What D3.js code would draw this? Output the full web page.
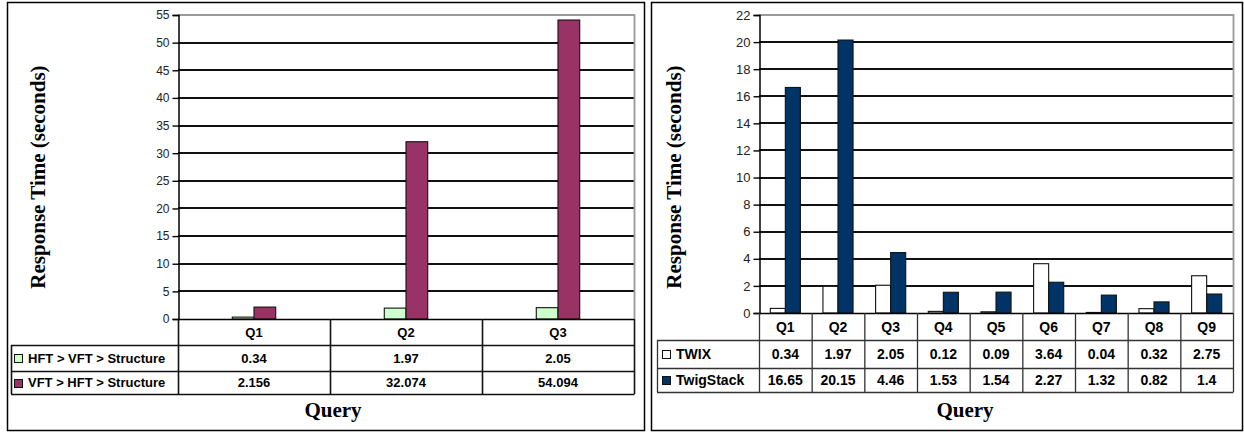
<!DOCTYPE html>
<html>
<head>
<meta charset="utf-8">
<script src="https://cdn.jsdelivr.net/npm/d3@7/dist/d3.min.js"></script>
<style>
  html, body { margin: 0; padding: 0; background: #fff; }
  svg { display: block; }
</style>
</head>
<body>
<svg id="chart" width="1244" height="432"></svg>
<script>
// ---- Left chart: evaluation order comparison ----
const leftCategories = ["Q1", "Q2", "Q3"];
const leftSeriesNames = ["HFT > VFT > Structure", "VFT > HFT > Structure"];
const leftHftFirst = [0.34, 1.97, 2.05];
const leftVftFirst = [2.156, 32.074, 54.094];
const leftValueLabels = [["0.34", "1.97", "2.05"], ["2.156", "32.074", "54.094"]];
const leftTicks = [0, 5, 10, 15, 20, 25, 30, 35, 40, 45, 50, 55];

// ---- Right chart: TWIX vs TwigStack ----
const rightCategories = ["Q1", "Q2", "Q3", "Q4", "Q5", "Q6", "Q7", "Q8", "Q9"];
const rightSeriesNames = ["TWIX", "TwigStack"];
const rightTwix = [0.34, 1.97, 2.05, 0.12, 0.09, 3.64, 0.04, 0.32, 2.75];
const rightTwigStack = [16.65, 20.15, 4.46, 1.53, 1.54, 2.27, 1.32, 0.82, 1.4];
const rightValueLabels = [
  ["0.34", "1.97", "2.05", "0.12", "0.09", "3.64", "0.04", "0.32", "2.75"],
  ["16.65", "20.15", "4.46", "1.53", "1.54", "2.27", "1.32", "0.82", "1.4"]
];
const rightTicks = [0, 2, 4, 6, 8, 10, 12, 14, 16, 18, 20, 22];

const svg = d3.select("#chart");

function drawPanel(cfg) {
  const g = svg.append("g");

  // outer frame
  g.append("rect")
    .attr("x", cfg.frame[0] + 0.5).attr("y", cfg.frame[1] + 0.5)
    .attr("width", cfg.frame[2]).attr("height", cfg.frame[3])
    .attr("fill", "#fff").attr("stroke", "#000").attr("stroke-width", 1.5);

  const x = d3.scaleBand().domain(cfg.categories).range([cfg.plotL, cfg.plotR]).padding(0);
  const y = d3.scaleLinear().domain([0, cfg.yMax]).range([cfg.plotB, cfg.plotT]);
  const xs = d3.scaleBand().domain(cfg.seriesNames).range([0, x.bandwidth()])
    .paddingInner(0).paddingOuter(cfg.outerPad);

  // gridlines
  g.append("g").selectAll("line")
    .data(cfg.ticks.filter(t => t > 0 && t < cfg.yMax))
    .join("line")
    .attr("x1", cfg.plotL).attr("x2", cfg.plotR)
    .attr("y1", d => Math.round(y(d))).attr("y2", d => Math.round(y(d)))
    .attr("stroke", "#111").attr("stroke-width", 1.8);

  // plot area border (top and right, grey)
  g.append("path")
    .attr("d", `M${cfg.plotL},${Math.round(y(cfg.yMax))}H${cfg.plotR + 0.5}V${cfg.plotB}`)
    .attr("fill", "none").attr("stroke", "#9a9a9a").attr("stroke-width", 1.8);

  // y axis
  const yAxis = d3.axisLeft(y).tickValues(cfg.ticks).tickSize(6).tickPadding(3).tickFormat(d3.format("d"));
  const ya = g.append("g").attr("transform", `translate(${cfg.plotL + 0.5},0)`).call(yAxis);
  ya.select(".domain").attr("stroke", "#000").attr("stroke-width", 1.5);
  ya.selectAll(".tick line").attr("stroke", "#000").attr("stroke-width", 1.4);
  ya.selectAll(".tick text")
    .attr("font-family", "Liberation Sans, Arial, sans-serif")
    .attr("font-size", cfg.tickFont).attr("fill", "#222");

  // bars
  cfg.series.forEach((vals, si) => {
    g.append("g").selectAll("rect")
      .data(vals)
      .join("rect")
      .attr("x", (d, i) => x(cfg.categories[i]) + xs(cfg.seriesNames[si]))
      .attr("y", d => y(d))
      .attr("width", xs.bandwidth())
      .attr("height", d => y(0) - y(d))
      .attr("fill", cfg.colors[si])
      .attr("stroke", "#111").attr("stroke-width", 1.1);
  });

  // baseline
  g.append("line")
    .attr("x1", cfg.plotL).attr("x2", cfg.plotR)
    .attr("y1", cfg.plotB + 0.5).attr("y2", cfg.plotB + 0.5)
    .attr("stroke", "#000").attr("stroke-width", 1.6);

  // data table
  const rows = cfg.rowEdges; // [top, headerBottom, row1Bottom, row2Bottom]
  const tl = g.append("g").attr("stroke", cfg.tableStroke).attr("stroke-width", cfg.tableWidth).attr("fill", "none");
  x.domain().forEach(c => {
    tl.append("line").attr("x1", x(c) + 0.5).attr("x2", x(c) + 0.5).attr("y1", rows[0]).attr("y2", rows[3]);
  });
  tl.append("line").attr("x1", cfg.plotR + 0.5).attr("x2", cfg.plotR + 0.5).attr("y1", rows[0]).attr("y2", rows[3]);
  tl.append("line").attr("x1", cfg.tableL + 0.5).attr("x2", cfg.tableL + 0.5).attr("y1", rows[1]).attr("y2", rows[3]);
  [1, 2, 3].forEach(r => {
    tl.append("line").attr("x1", cfg.tableL).attr("x2", cfg.plotR + 0.5)
      .attr("y1", rows[r] + 0.5).attr("y2", rows[r] + 0.5);
  });

  const tf = "Liberation Sans, Arial, sans-serif";
  // category labels
  g.append("g").selectAll("text").data(cfg.categories).join("text")
    .attr("x", d => x(d) + x.bandwidth() / 2)
    .attr("y", (rows[0] + rows[1]) / 2)
    .attr("dy", "0.36em").attr("text-anchor", "middle")
    .attr("font-family", tf).attr("font-weight", "bold").attr("font-size", cfg.tableFont)
    .text(d => d);

  // value rows + legend keys
  cfg.valueLabels.forEach((labels, si) => {
    const cy = (rows[si + 1] + rows[si + 2]) / 2;
    g.append("g").selectAll("text").data(labels).join("text")
      .attr("x", (d, i) => x(cfg.categories[i]) + x.bandwidth() / 2)
      .attr("y", cy).attr("dy", "0.36em").attr("text-anchor", "middle")
      .attr("font-family", tf).attr("font-weight", "bold").attr("font-size", cfg.tableFont)
      .text(d => d);
    g.append("rect")
      .attr("x", cfg.keyX + 0.5).attr("y", Math.round(cy - 4) + 0.5)
      .attr("width", 8).attr("height", 8)
      .attr("fill", cfg.colors[si]).attr("stroke", "#111").attr("stroke-width", 1);
    g.append("text")
      .attr("x", cfg.keyX + 14).attr("y", cy).attr("dy", "0.36em")
      .attr("font-family", tf).attr("font-weight", "bold").attr("font-size", cfg.tableFont)
      .text(cfg.seriesNames[si]);
  });

  // axis titles
  g.append("text")
    .attr("transform", `translate(${cfg.yTitleX},${cfg.yTitleY}) rotate(-90)`)
    .attr("text-anchor", "middle")
    .attr("font-family", "Liberation Serif, Times New Roman, serif")
    .attr("font-weight", "bold").attr("font-size", 21)
    .text("Response Time (seconds)");
  g.append("text")
    .attr("x", cfg.xTitleX).attr("y", cfg.xTitleY)
    .attr("text-anchor", "middle")
    .attr("font-family", "Liberation Serif, Times New Roman, serif")
    .attr("font-weight", "bold").attr("font-size", 21)
    .text("Query");
}

drawPanel({
  frame: [7, 2, 637, 428],
  categories: leftCategories,
  seriesNames: leftSeriesNames,
  series: [leftHftFirst, leftVftFirst],
  valueLabels: leftValueLabels,
  ticks: leftTicks,
  yMax: 55,
  colors: ["#ccffcc", "#993366"],
  plotL: 178, plotR: 634, plotT: 15, plotB: 319,
  outerPad: 2.5,
  tickFont: 12,
  tableFont: 13,
  tableL: 11,
  rowEdges: [319, 345, 371, 394],
  tableStroke: "#111", tableWidth: 1.6,
  keyX: 14,
  yTitleX: 45, yTitleY: 177,
  xTitleX: 333, xTitleY: 417
});

drawPanel({
  frame: [651, 2, 591, 428],
  categories: rightCategories,
  seriesNames: rightSeriesNames,
  series: [rightTwix, rightTwigStack],
  valueLabels: rightValueLabels,
  ticks: rightTicks,
  yMax: 22,
  colors: ["#ffffff", "#003366"],
  plotL: 759, plotR: 1233, plotT: 15, plotB: 313,
  outerPad: 0.75,
  tickFont: 13,
  tableFont: 14,
  tableL: 657,
  rowEdges: [313, 340, 368, 392],
  tableStroke: "#333", tableWidth: 1.3,
  keyX: 662,
  yTitleX: 681, yTitleY: 177,
  xTitleX: 965, xTitleY: 417
});
</script>
</body>
</html>
